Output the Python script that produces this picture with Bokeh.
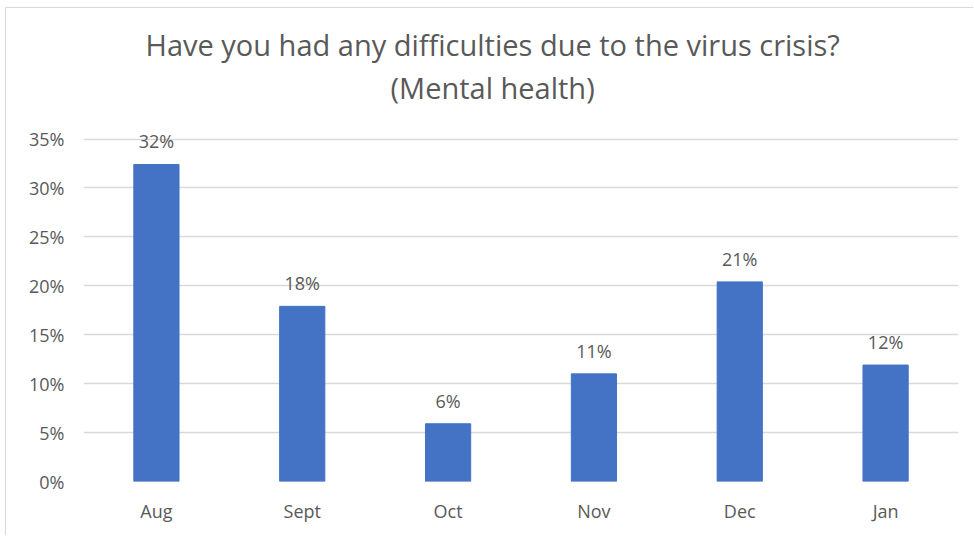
from bokeh.plotting import figure
from bokeh.models import ColumnDataSource, FixedTicker, NumeralTickFormatter, Title, LabelSet, Range1d
from bokeh.core.properties import value
from bokeh.embed import file_html
from bokeh.resources import INLINE

months = ["Aug", "Sept", "Oct", "Nov", "Dec", "Jan"]
shares = [0.324, 0.179, 0.059, 0.110, 0.204, 0.119]
labels = ["32%", "18%", "6%", "11%", "21%", "12%"]
yticks = [0, 0.05, 0.10, 0.15, 0.20, 0.25, 0.30, 0.35]
title_line1 = "Have you had any difficulties due to the virus crisis?"
title_line2 = "(Mental health)"

FONT = "Open Sans"
GREY = "#595959"

src = ColumnDataSource(dict(month=months, share=shares, label=labels))

p = figure(x_range=months, width=968, height=528, output_backend="svg",
           toolbar_location=None, tools="")
p.y_range = Range1d(0, 0.3812)
p.min_border_left = 77
p.min_border_right = 16
p.min_border_bottom = 55
p.min_border_top = 100

p.vbar(x="month", top="share", width=0.31, source=src, color="#4472C4")

p.add_layout(LabelSet(x="month", y="share", text="label", source=src,
                      text_align="center", text_baseline="bottom", y_offset=11,
                      text_color=GREY, text_font=value(FONT), text_font_size="18px"))

p.add_layout(Title(text=title_line2, align="left", offset=307, text_font=FONT,
                   text_font_size="29px", text_color=GREY, text_font_style="normal",
                   standoff=4), "above")
p.add_layout(Title(text=title_line1, align="left", offset=62, text_font=FONT,
                   text_font_size="29px", text_color=GREY, text_font_style="normal",
                   standoff=0), "above")

p.yaxis.ticker = FixedTicker(ticks=yticks)
p.yaxis.formatter = NumeralTickFormatter(format="0%")
p.ygrid.ticker = FixedTicker(ticks=yticks)
p.ygrid.grid_line_color = "#D9D9D9"
p.ygrid.grid_line_width = 1.5
p.xgrid.grid_line_color = None
p.outline_line_color = None

for ax in (p.xaxis, p.yaxis):
    ax.axis_line_color = None
    ax.major_tick_line_color = None
    ax.minor_tick_line_color = None
    ax.major_tick_out = 0
    ax.major_tick_in = 0
    ax.major_label_text_font = FONT
    ax.major_label_text_font_size = "18px"
    ax.major_label_text_color = GREY
p.yaxis.major_label_standoff = 19
p.xaxis.major_label_standoff = 17

p.styles = {"margin-left": "5px", "margin-top": "7px",
            "border-left": "1px solid #D9D9D9", "border-top": "1px solid #D9D9D9"}

open("out.html", "w").write(file_html(p, INLINE))
